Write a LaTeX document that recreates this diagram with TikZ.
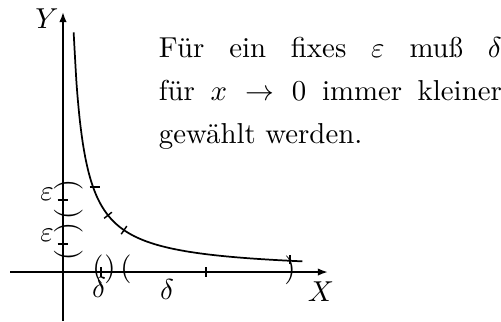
\documentclass[tikz,border=0pt]{standalone}
\usetikzlibrary{arrows.meta,positioning,calc}

\begin{document}
\begin{tikzpicture}[>={Latex[length=3.5pt,width=2.6pt]}, line width=0.6pt,
  bracket/.style={inner sep=0pt},
  marker/.style={line width=0.5pt}]
  \useasboundingbox (-0.768,-0.598) rectangle (5.341,3.317);

  % axes
  \coordinate (o) at (0,0);
  \coordinate (xa) at (-0.646,0);
  \coordinate (xb) at (3.23,0);
  \coordinate (ya) at (0,-0.598);
  \coordinate (yb) at (0,3.17);
  \draw[->] (xa) -- (xb);
  \draw[->] (ya) -- (yb);
  \node at (3.146,-0.244) {$X$};
  \node at (-0.195,3.085) {$Y$};

  % hyperbola
  \draw[domain=0.13:2.92, samples=80, smooth] plot (\x, {0.38/\x});
  \coordinate (c1) at (0.366,{0.38/0.366});
  \coordinate (c2) at (0.549,{0.38/0.549});
  \coordinate (c3) at (0.744,{0.38/0.744});
  \coordinate (c4) at (2.768,{0.38/2.768});
  \draw[marker] (c1) ++(-0.04,0) -- ++(0.12,0);
  \draw[marker] (c2) ++(218.4:0.06) -- ++(38.4:0.12);
  \draw[marker] (c3) ++(235.5:0.06) -- ++(55.5:0.12);
  \draw[marker] (c4) ++(0,-0.045) -- ++(0,0.11);

  % epsilon intervals on the Y axis
  \coordinate (e1) at (0,0.878);
  \coordinate (e2) at (0,0.341);
  \draw[marker] (e1) ++(-0.065,0) -- ++(0.13,0);
  \draw[marker] (e2) ++(-0.065,0) -- ++(0.13,0);
  \node[bracket, rotate=-90] (e1t) at (0.067,1.061) {(};
  \node[bracket, rotate=-90] (e1b) at (0.067,0.705) {)};
  \node[bracket, rotate=-90] (e2t) at (0.067,0.536) {(};
  \node[bracket, rotate=-90] (e2b) at (0.067,0.205) {)};
  \node at (-0.195,0.951) {$\varepsilon$};
  \node at (-0.195,0.451) {$\varepsilon$};

  % delta intervals on the X axis
  \coordinate (d1) at (0.463,0);
  \coordinate (d2) at (1.744,0);
  \draw[marker] (d1) ++(0,-0.06) -- ++(0,0.12);
  \draw[marker] (d2) ++(0,-0.06) -- ++(0,0.12);
  \node[bracket] (d1l) at (0.427,0.03) {(};
  \node[bracket] (d1r) at (0.573,0.03) {)};
  \node[bracket] (d2l) at (0.768,0.03) {(};
  \node[bracket] (d2r) at (2.768,0.018) {)};
  \node at (0.439,-0.183) {$\delta$};
  \node at (1.268,-0.207) {$\delta$};

  % explanation
  \node[anchor=north west, inner sep=0pt, text width=119pt, align=justify,
        font=\fontsize{10}{15}\selectfont] (txt) at (1.159,2.88)
    {Für ein fixes $\varepsilon$ muß $\delta$\linebreak
     für $x \to 0$ immer kleiner\linebreak
     gewählt werden.};
\end{tikzpicture}
\end{document}
